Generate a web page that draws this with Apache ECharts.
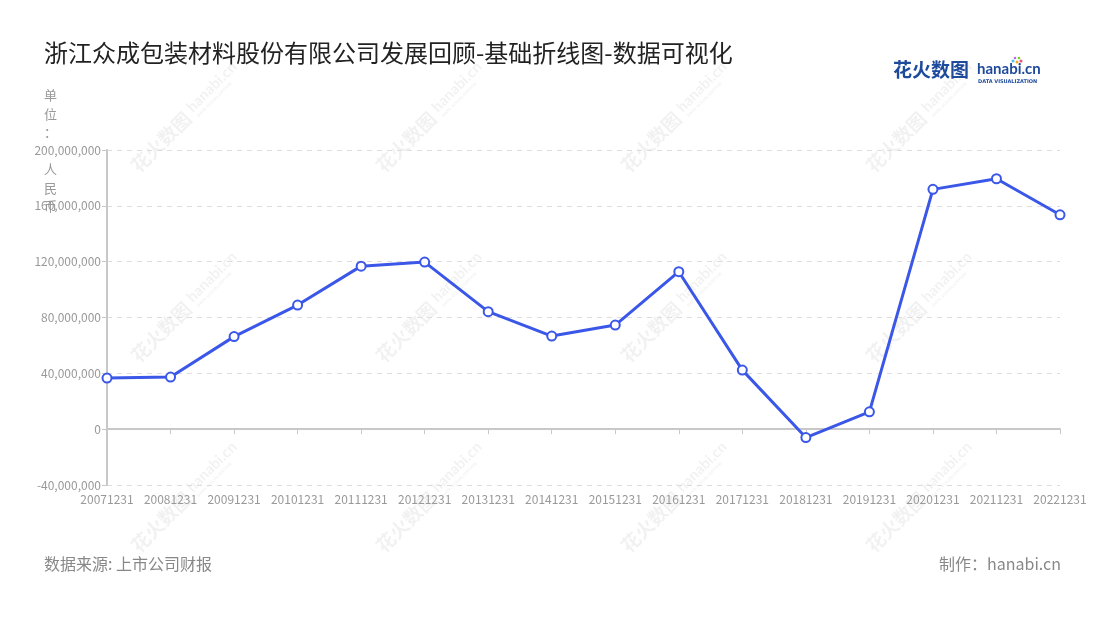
<!DOCTYPE html>
<html>
<head>
<meta charset="utf-8">
<script src="https://cdn.jsdelivr.net/npm/echarts@6/dist/echarts.min.js"></script>
<style>
html,body{margin:0;padding:0;background:#fff;}
#chart{width:1100px;height:620px;}
</style>
</head>
<body>
<div id="chart"></div>
<script>
const categories = ['20071231','20081231','20091231','20101231','20111231','20121231','20131231','20141231','20151231','20161231','20171231','20181231','20191231','20201231','20211231','20221231'];
const values = [36600000, 37300000, 66300000, 88900000, 116800000, 119700000, 84200000, 66700000, 74600000, 112800000, 42300000, -6000000, 12400000, 171800000, 179400000, 153600000];
const yTicks = { min: -40000000, max: 200000000, interval: 40000000 };

const FONT = '"Noto Sans CJK SC", "Noto Sans", sans-serif';

function watermark(cx, cy) {
  const c = 'rgba(0,0,0,0.055)';
  return {
    type: 'group', x: cx, y: cy, rotation: Math.PI / 4, silent: true, z: 0,
    children: [
      { type: 'text', style: { x: -3, y: 0, text: '花火数图', font: 'bold 19px ' + FONT, fill: c, textAlign: 'right', textVerticalAlign: 'middle' } },
      { type: 'text', style: { x: 2, y: -3, text: 'hanabi.cn', font: 'bold 15px Lato, sans-serif', fill: c, textAlign: 'left', textVerticalAlign: 'middle' } },
      { type: 'text', style: { x: 3, y: 8, text: 'DATA VISUALIZATION', font: 'bold 4px "DejaVu Sans", sans-serif', fill: c, textAlign: 'left', textVerticalAlign: 'middle' } }
    ]
  };
}
const wm = [];
[190, 435, 680, 925].forEach(x => [113, 303, 493].forEach(y => wm.push(watermark(x, y))));

const chart = echarts.init(document.getElementById('chart'), null, { renderer: 'canvas' });
chart.setOption({
  backgroundColor: '#fff',
  animation: false,
  title: {
    text: '浙江众成包装材料股份有限公司发展回顾-基础折线图-数据可视化',
    left: 39, top: 36,
    textStyle: { fontFamily: FONT, fontSize: 24, fontWeight: 'normal', color: '#222' }
  },
  grid: { left: 107, right: 40, top: 150, bottom: 135 },
  xAxis: {
    type: 'category',
    data: categories,
    boundaryGap: false,
    axisLine: { lineStyle: { color: '#c8c8c8', width: 2 } },
    axisTick: { lineStyle: { color: '#c8c8c8' }, length: 5 },
    axisLabel: { color: '#999', fontSize: 12, fontFamily: FONT, margin: 8, interval: 0 },
    splitLine: { show: false }
  },
  yAxis: {
    type: 'value',
    min: yTicks.min, max: yTicks.max, interval: yTicks.interval,
    axisLine: { show: true, lineStyle: { color: '#c8c8c8', width: 2 } },
    axisTick: { show: true, lineStyle: { color: '#c8c8c8' }, length: 5 },
    axisLabel: { color: '#999', fontSize: 12, fontFamily: FONT, margin: 6,
      formatter: v => v.toLocaleString('en-US') },
    splitLine: { lineStyle: { color: '#ddd', type: [5, 5] } }
  },
  series: [{
    type: 'line',
    data: values,
    symbol: 'emptyCircle',
    symbolSize: 9,
    lineStyle: { color: '#3b57e8', width: 3 },
    itemStyle: { color: '#3b57e8', borderWidth: 2 },
    z: 5
  }],
  graphic: wm.concat([
    { type: 'text', left: 44, top: 86, z: 10, style: { text: '单\n位\n：\n\n人\n民\n币', font: '13px ' + FONT, fill: '#999', lineHeight: 18.5, textAlign: 'center' } },
    { type: 'text', left: 44, top: 556, z: 10, style: { text: '数据来源: 上市公司财报', font: '16px ' + FONT, fill: '#888' } },
    { type: 'text', right: 39, top: 556, z: 10, style: { text: '制作：hanabi.cn', font: '16px ' + FONT, fill: '#888' } },
    { type: 'text', left: 893, top: 60, z: 10, style: { text: '花火数图', font: 'bold 19px ' + FONT, fill: '#1e4a9c' } },
    { type: 'text', left: 977, top: 62, z: 10, style: { text: 'hanabi.cn', font: 'bold 15px Lato, sans-serif', fill: '#1e4a9c' } },
    { type: 'text', left: 978, top: 79, z: 10, style: { text: 'DATA VISUALIZATION', font: 'bold 5px "DejaVu Sans", sans-serif', fill: '#1e4a9c' } },
    { type: 'circle', shape: { cx: 1017, cy: 62, r: 1.5 }, style: { fill: '#f5a623' }, z: 10 },
    { type: 'circle', shape: { cx: 1021, cy: 61, r: 1.5 }, style: { fill: '#e94e77' }, z: 10 },
    { type: 'circle', shape: { cx: 1013, cy: 61, r: 1.5 }, style: { fill: '#4cc3e8' }, z: 10 },
    { type: 'circle', shape: { cx: 1019, cy: 58, r: 1.3 }, style: { fill: '#7ed321' }, z: 10 },
    { type: 'circle', shape: { cx: 1015, cy: 58, r: 1.3 }, style: { fill: '#b36ae2' }, z: 10 }
  ])
});
</script>
</body>
</html>
